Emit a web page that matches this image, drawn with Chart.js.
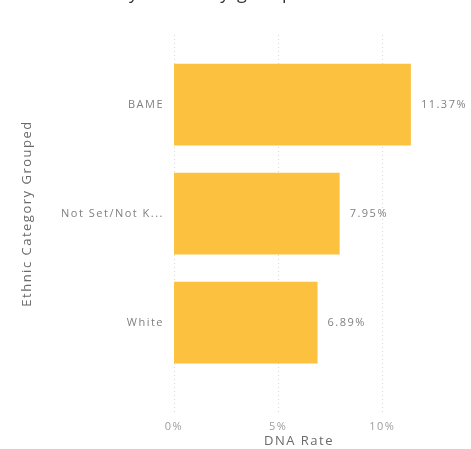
<!DOCTYPE html>
<html>
<head>
<meta charset="utf-8">
<script src="https://cdn.jsdelivr.net/npm/chart.js@4"></script>
<style>
  html, body { margin: 0; padding: 0; background: #ffffff; }
  #wrap { width: 471px; height: 449px; position: relative; }
</style>
</head>
<body>
<div id="wrap"><canvas id="c" width="471" height="449"></canvas></div>
<script>
// DNA (did not attend) rate by grouped ethnic category
const categories = ['BAME', 'Not Set/Not Known', 'White'];
const dnaRate = [11.37, 7.95, 6.89];
const xTicks = [0, 5, 10];

const chartTitle = 'DNA Rate by Ethnicity group';
const FONT = "'Open Sans', 'Liberation Sans', Arial, sans-serif";
const BAR = '#FCC13F';
const SPACING = '1.5px';

function shorten(s) {
  return s.length > 15 ? s.slice(0, 13) + '...' : s;
}

// Wider tracking for every piece of text on the canvas
const trackingPlugin = {
  id: 'tracking',
  beforeUpdate(chart) { chart.ctx.letterSpacing = SPACING; },
  beforeLayout(chart) { chart.ctx.letterSpacing = SPACING; },
  beforeDraw(chart) { chart.ctx.letterSpacing = SPACING; }
};

// Title sits at the very top edge of the canvas, mostly above it
const titlePlugin = {
  id: 'topTitle',
  afterDraw(chart) {
    const ctx = chart.ctx;
    ctx.save();
    ctx.font = '18px ' + FONT;
    ctx.fillStyle = '#333333';
    ctx.textAlign = 'left';
    ctx.textBaseline = 'alphabetic';
    ctx.fillText(chartTitle, 18, -1);
    ctx.restore();
  }
};

// Dotted value gridlines that run past the plot area
const gridPlugin = {
  id: 'dottedGrid',
  beforeDatasetsDraw(chart) {
    const ctx = chart.ctx;
    const xs = chart.scales.x;
    const area = chart.chartArea;
    ctx.save();
    ctx.strokeStyle = '#d9d9d9';
    ctx.lineWidth = 1;
    ctx.setLineDash([1, 3]);
    xTicks.forEach(v => {
      const px = Math.round(xs.getPixelForValue(v)) + 0.5;
      ctx.beginPath();
      ctx.moveTo(px, area.top - 15);
      ctx.lineTo(px, area.bottom + 36);
      ctx.stroke();
    });
    ctx.restore();
  }
};

// Value labels to the right of each bar
const valuePlugin = {
  id: 'valueLabels',
  afterDatasetsDraw(chart) {
    const ctx = chart.ctx;
    const meta = chart.getDatasetMeta(0);
    ctx.save();
    ctx.font = '11px ' + FONT;
    ctx.fillStyle = '#808080';
    ctx.textAlign = 'left';
    ctx.textBaseline = 'middle';
    meta.data.forEach((bar, i) => {
      ctx.fillText(dnaRate[i].toFixed(2) + '%', bar.x + 10, bar.y);
    });
    ctx.restore();
  }
};

new Chart(document.getElementById('c'), {
  type: 'bar',
  data: {
    labels: categories,
    datasets: [{
      data: dnaRate,
      backgroundColor: BAR,
      borderWidth: 0,
      categoryPercentage: 0.75,
      barPercentage: 1.0
    }]
  },
  options: {
    indexAxis: 'y',
    responsive: false,
    animation: false,
    layout: { padding: { top: 50, right: 47, bottom: 0, left: 0 } },
    plugins: {
      legend: { display: false },
      tooltip: { enabled: false }
    },
    scales: {
      x: {
        min: 0,
        max: 12,
        afterBuildTicks(scale) {
          scale.ticks = xTicks.map(v => ({ value: v }));
        },
        afterFit(scale) { scale.height = 72; },
        grid: { display: false, drawTicks: false },
        border: { display: false },
        ticks: {
          padding: 43,
          color: '#9d9d9d',
          font: { family: FONT, size: 11 },
          callback: v => v + '%'
        },
        title: {
          display: true,
          text: 'DNA Rate',
          color: '#6a6a6a',
          font: { family: FONT, size: 13 },
          padding: { top: 0, bottom: 0 }
        }
      },
      y: {
        afterFit(scale) { scale.width = 174; },
        grid: { display: false, drawTicks: false },
        border: { display: false },
        ticks: {
          padding: 10,
          color: '#808080',
          font: { family: FONT, size: 11 },
          callback: function (v) { return shorten(this.getLabelForValue(v)); }
        },
        title: {
          display: true,
          text: 'Ethnic Category Grouped',
          color: '#6a6a6a',
          font: { family: FONT, size: 13 },
          padding: { top: 19, bottom: 0 }
        }
      }
    }
  },
  plugins: [trackingPlugin, gridPlugin, valuePlugin, titlePlugin]
});
</script>
</body>
</html>
